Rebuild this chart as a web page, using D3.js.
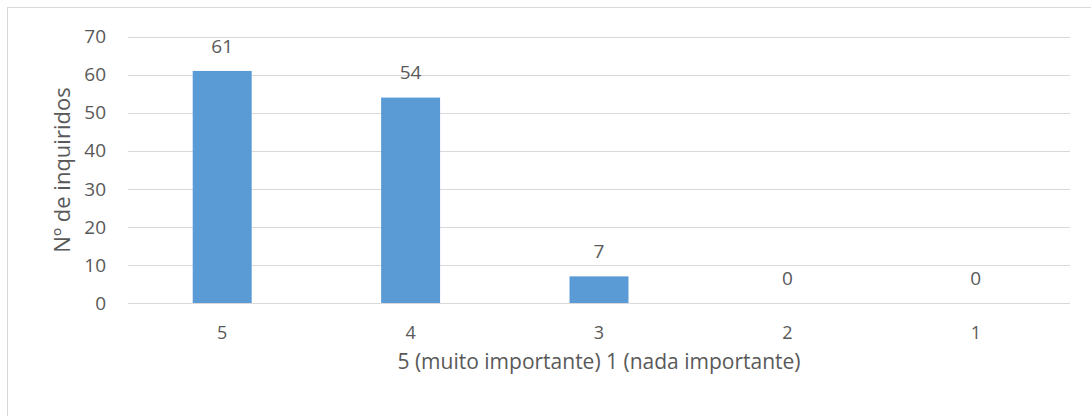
<!DOCTYPE html>
<html lang="en">
<head>
<meta charset="UTF-8">
<title>Nº de inquiridos</title>
<script src="https://d3js.org/d3.v7.min.js"></script>
<style>
  body { margin: 0; background: #fff; }
  text { font-family: "Open Sans", "Noto Sans", sans-serif; fill: #595959; }
</style>
</head>
<body>
<svg id="chart" width="1091" height="416"></svg>
<script>
    const categories = ["5", "4", "3", "2", "1"];
    const values = [61, 54, 7, 0, 0];
    const yTicks = [0, 10, 20, 30, 40, 50, 60, 70];

    const svg = d3.select("#chart");

    // chart frame
    svg.append("rect")
        .attr("x", 7.5).attr("y", 7.5)
        .attr("width", 1100).attr("height", 430)
        .attr("fill", "none")
        .attr("stroke", "#d9d9d9");

    const x = d3.scaleBand().domain(categories).range([128, 1070]).paddingInner(0.687).paddingOuter(0.3435);
    const y = d3.scaleLinear().domain([0, 70]).range([303, 36.7]);

    // gridlines
    svg.append("g").selectAll("line")
        .data(yTicks)
        .join("line")
        .attr("x1", 128).attr("x2", 1070)
        .attr("y1", d => Math.round(y(d)) + 0.5)
        .attr("y2", d => Math.round(y(d)) + 0.5)
        .attr("stroke", "#d9d9d9")
        .attr("stroke-width", 1);

    // y labels
    svg.append("g").selectAll("text")
        .data(yTicks)
        .join("text")
        .attr("x", 106)
        .attr("y", d => y(d))
        .attr("dy", "0.35em")
        .attr("text-anchor", "end")
        .attr("font-size", 19)
        .text(d => d);

    // bars
    svg.append("g").selectAll("rect")
        .data(values)
        .join("rect")
        .attr("x", (d, i) => x(categories[i]))
        .attr("y", d => y(d))
        .attr("width", x.bandwidth())
        .attr("height", d => y(0) - y(d))
        .attr("fill", "#5b9bd5");

    // value labels
    svg.append("g").selectAll("text")
        .data(values)
        .join("text")
        .attr("x", (d, i) => x(categories[i]) + x.bandwidth() / 2)
        .attr("y", d => y(d) - 25)
        .attr("dy", "0.35em")
        .attr("text-anchor", "middle")
        .attr("font-size", 19)
        .text(d => d);

    // x labels
    svg.append("g").selectAll("text")
        .data(categories)
        .join("text")
        .attr("x", d => x(d) + x.bandwidth() / 2)
        .attr("y", 333)
        .attr("dy", "0.35em")
        .attr("text-anchor", "middle")
        .attr("font-size", 18)
        .text(d => d);

    // axis titles
    svg.append("text")
        .attr("x", (128 + 1070) / 2)
        .attr("y", 362)
        .attr("dy", "0.35em")
        .attr("text-anchor", "middle")
        .attr("font-size", 21)
        .text("5 (muito importante) 1 (nada importante)");

    svg.append("text")
        .attr("transform", "translate(62,170) rotate(-90)")
        .attr("dy", "0.35em")
        .attr("text-anchor", "middle")
        .attr("font-size", 22)
        .text("Nº de inquiridos");
</script>
</body>
</html>
